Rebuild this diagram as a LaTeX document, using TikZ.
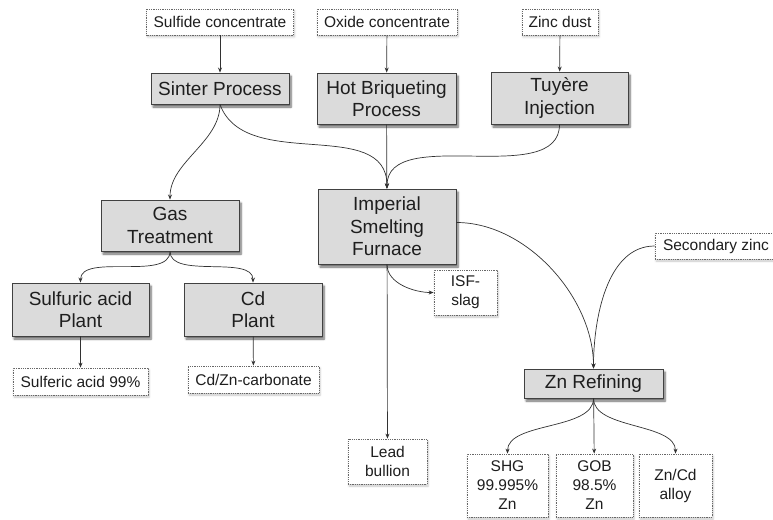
\documentclass[tikz,border=0pt]{standalone}
\usepackage{fontspec}
\setmainfont{Liberation Sans}
\usetikzlibrary{arrows.meta,shadows.blur}
\definecolor{boxfill}{RGB}{219,219,219}
\definecolor{boxline}{RGB}{65,65,65}
\definecolor{linkcol}{RGB}{50,50,50}
\definecolor{txtcol}{RGB}{30,30,30}
\begin{document}
\begin{tikzpicture}[x=1pt,y=-1pt,
  stagebox/.style={draw=boxline,line width=0.9pt,fill=boxfill,text=txtcol,
    font=\fontsize{19}{22.5}\selectfont,align=center,inner sep=0pt,
    blur shadow={shadow xshift=2pt,shadow yshift=-3pt,shadow blur steps=6,shadow opacity=60}},
  flowbox/.style={draw=boxline!80,densely dotted,line width=0.8pt,fill=white,text=txtcol,
    font=\fontsize{15.5}{19}\selectfont,align=center,inner sep=0pt,
    blur shadow={shadow xshift=1pt,shadow yshift=-2pt,shadow blur steps=5,shadow opacity=22}},
  link/.style={draw=linkcol,line width=0.7pt,-{Stealth[length=5pt,width=4pt]}},
]
\useasboundingbox (0,0) rectangle (773,519);

% raw materials
\node[flowbox,minimum width=147,minimum height=26] (sulf) at (220,22) {Sulfide concentrate};
\node[flowbox,minimum width=140,minimum height=26] (oxide) at (387,22) {Oxide concentrate};
\node[flowbox,minimum width=76,minimum height=26] (zdust) at (560,22) {Zinc dust};

% feed preparation
\node[stagebox,minimum width=138,minimum height=31] (sinter) at (220,88.5) {Sinter Process};
\node[stagebox,minimum width=139,minimum height=51] (hotb) at (386.5,98.5) {Hot Briqueting\\Process};
\node[stagebox,minimum width=137,minimum height=52] (tuy) at (559.5,98) {Tuy\`ere\\Injection};

% smelting and gas line
\node[stagebox,minimum width=138,minimum height=51] (gas) at (170,225.5) {Gas\\Treatment};
\node[stagebox,minimum width=138,minimum height=75] (isf) at (387,226.5) {Imperial\\Smelting\\Furnace};
\node[stagebox,minimum width=137,minimum height=53] (sap) at (80.5,309.5) {Sulfuric acid\\Plant};
\node[stagebox,minimum width=138,minimum height=53] (cdp) at (253,309.5) {Cd\\Plant};
\node[flowbox,minimum width=135,minimum height=27] (sa99) at (80.5,381.5) {Sulferic acid 99\%};
\node[flowbox,minimum width=131,minimum height=27] (cdzn) at (253.5,379.5) {Cd/Zn-carbonate};
\node[flowbox,minimum width=63,minimum height=45] (slag) at (465.5,292.5) {ISF-\\slag};
\node[flowbox,minimum width=79,minimum height=45] (lead) at (387.5,461.5) {Lead\\bullion};

% zinc refining
\node[flowbox,minimum width=122,minimum height=26] (seczn) at (716,246) {Secondary zinc};
\node[stagebox,minimum width=139,minimum height=29] (znref) at (593.5,383.5) {Zn Refining};
\node[flowbox,minimum width=81,minimum height=63] (shg) at (507.5,485.5) {SHG\\99.995\%\\Zn};
\node[flowbox,minimum width=77,minimum height=63] (gob) at (594.5,485.5) {GOB\\98.5\%\\Zn};
\node[flowbox,minimum width=73,minimum height=63] (alloy) at (675.5,485.5) {Zn/Cd\\alloy};

% connectors
\draw[link] (sulf) -- (sinter);
\draw[link] (oxide) -- (hotb);
\draw[link] (zdust) -- (tuy);
\draw[link] (sinter.south) to[out=-90,in=90,looseness=0.9] (gas.north);
\draw[link] (sinter.south) to[out=-70,in=90,looseness=1.0] (isf.north);
\draw[link] (hotb) -- (isf);
\draw[link] (tuy.south) to[out=-90,in=90,looseness=0.9] (isf.north);
\draw[link] (gas.south) to[out=-90,in=90,looseness=0.8] (sap.north);
\draw[link] (gas.south) to[out=-90,in=90,looseness=0.8] (cdp.north);
\draw[link] (sap) -- (sa99);
\draw[link] (cdp) -- (cdzn);
\draw[link] (isf.south) to[out=-90,in=180,looseness=0.9] (slag.west);
\draw[link] (isf) -- (lead);
\draw[link] (isf.east) ++(0,-4) to[out=0,in=90,looseness=0.9] (znref.north);
\draw[link] (seczn.west) to[out=180,in=90,looseness=0.9] (znref.north);
\draw[link] (znref.south) to[out=-90,in=90,looseness=0.8] (shg.north);
\draw[link] (znref) -- (gob);
\draw[link] (znref.south) to[out=-90,in=90,looseness=0.8] (alloy.north);
\end{tikzpicture}
\end{document}
